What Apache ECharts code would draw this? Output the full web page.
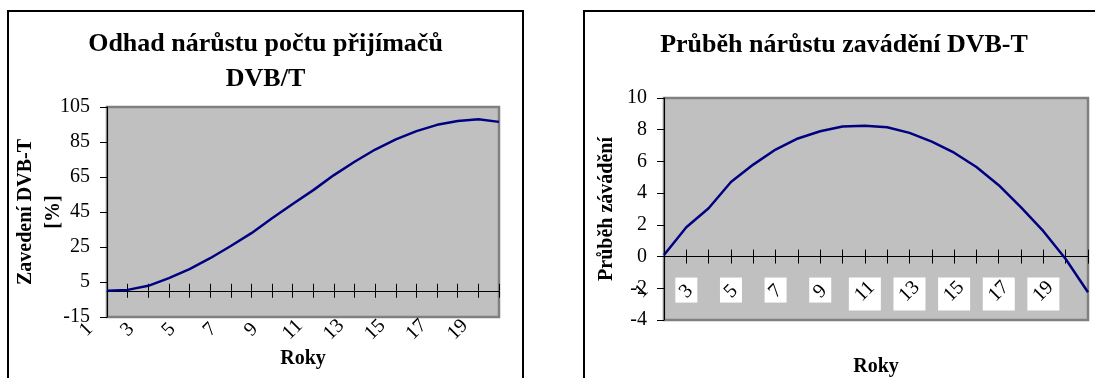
<!DOCTYPE html>
<html>
<head>
<meta charset="utf-8">
<title>DVB-T</title>
<script src="https://cdn.jsdelivr.net/npm/echarts@6/dist/echarts.min.js"></script>
<style>
    html, body { margin: 0; padding: 0; background: #fff; width: 1095px; height: 378px; overflow: hidden; }
    .box { position: absolute; top: 10px; height: 400px; border: 2px solid #000; box-sizing: border-box; }
    #chartLeft { left: 7px; width: 517px; }
    #chartRight { left: 583px; width: 522px; }
</style>
</head>
<body>
<div id="chartLeft" class="box"></div>
<div id="chartRight" class="box"></div>
<script>
    // popisky osy x - Excel je ma posunute o jeden dilek doleva
    var roky = ['1', '2', '3', '4', '5', '6', '7', '8', '9', '10', '11',
        '12', '13', '14', '15', '16', '17', '18', '19', '20', '21'];
    // odhad zavedeni DVB-T [%]
    var zavedeni = [0, 0.5, 2.8, 7.2, 12.4, 18.6, 25.6, 32.9, 41.4, 49.6,
        57.5, 66.1, 73.7, 80.7, 86.5, 91.2, 94.8, 97, 98, 96.5];
    // prubeh narustu zavadeni
    var prubeh = [0.1, 1.85, 3.05, 4.7, 5.8, 6.75, 7.45, 7.9, 8.2, 8.25,
        8.15, 7.8, 7.25, 6.55, 5.65, 4.5, 3.1, 1.6, -0.15, -2.25];
    var osaYZavedeni = [-15, 5, 25, 45, 65, 85, 105];
    var osaYPrubeh = [-4, -2, 0, 2, 4, 6, 8, 10];

    var SERIF = "'Liberation Serif', 'Times New Roman', serif";
    var black = { color: '#000', width: 1 };

    function titleStyle() {
        return { fontFamily: SERIF, fontSize: 26, fontWeight: 'bold', lineHeight: 35, color: '#000' };
    }
    function nameStyle(lh) {
        return { fontFamily: SERIF, fontSize: 20, fontWeight: 'bold', lineHeight: lh || 22, color: '#000' };
    }
    function plotGrid(left, top, width, height) {
        return {
            left: left, top: top, width: width, height: height,
            show: true, backgroundColor: '#c0c0c0', borderColor: '#808080', borderWidth: 2.5,
            outerBoundsMode: 'none', containLabel: false
        };
    }
    // pomocny grid, jehoz spodni hrana lezi na nule hlavni osy y
    function zeroGrid(left, top, width, height, yMin, yMax) {
        return {
            left: left, top: top, width: width, height: height * yMax / (yMax - yMin),
            outerBoundsMode: 'none', containLabel: false
        };
    }
    function mainXAxis(nameGap) {
        return {
            gridIndex: 0, type: 'category', data: roky.slice(1), boundaryGap: false,
            axisLine: { onZero: true, lineStyle: black },
            axisTick: { inside: true, length: 7, interval: 0, lineStyle: black },
            axisLabel: { show: false },
            name: 'Roky', nameLocation: 'middle', nameGap: nameGap, nameMoveOverlap: false,
            nameTextStyle: nameStyle()
        };
    }
    function labelXAxis(gridIndex, margin) {
        return {
            gridIndex: gridIndex, type: 'category', data: roky, boundaryGap: false,
            position: 'bottom', z: 3,
            axisLine: { show: false, onZero: false },
            axisTick: { show: true, length: 7, lineStyle: black,
                interval: function (i) { return i > 0; } },
            axisLabel: {
                interval: function (i) { return i % 2 === 0 && i < 19; },
                rotate: 45, align: 'center', verticalAlign: 'middle', margin: margin,
                fontFamily: SERIF, fontSize: 20, color: '#000', hideOverlap: false
            }
        };
    }
    function hiddenY(gridIndex, min, max) {
        return { gridIndex: gridIndex, type: 'value', min: min, max: max, show: false };
    }
    function serie(data) {
        return {
            type: 'line', xAxisIndex: 0, yAxisIndex: 0, data: data, symbol: 'none', z: 4,
            lineStyle: { color: '#000080', width: 2.5 }, itemStyle: { color: '#000080' }
        };
    }

    function drawLeft() {
        var chart = echarts.init(document.getElementById('chartLeft'));
        chart.setOption({
            animation: false,
            title: { text: 'Odhad nárůstu počtu přijímačů\nDVB/T', left: 'center', top: 10,
                textStyle: titleStyle() },
            grid: [
                plotGrid(98, 95, 392, 210),
                zeroGrid(77.4, 95, 412.6, 210, -15, 105)
            ],
            xAxis: [mainXAxis(31), labelXAxis(1, 39)],
            yAxis: [
                {
                    gridIndex: 0, type: 'value', min: -15, max: 105,
                    axisLine: { show: true, lineStyle: black },
                    axisTick: { show: true, length: 7, customValues: osaYZavedeni, lineStyle: black },
                    axisLabel: { customValues: osaYZavedeni, margin: 17, fontFamily: SERIF, fontSize: 20, color: '#000' },
                    splitLine: { show: false },
                    name: 'Zavedení DVB-T\n[%]', nameLocation: 'middle', nameGap: 39, nameMoveOverlap: false,
                    nameTextStyle: nameStyle(28)
                },
                hiddenY(1, -15, 105)
            ],
            series: [serie(zavedeni)]
        });
    }

    function drawRight() {
        var chart = echarts.init(document.getElementById('chartRight'));
        // bile obdelniky pod popisky osy x
        var boxAxis = {
            gridIndex: 1, type: 'category', data: roky, boundaryGap: false,
            position: 'bottom', z: 2,
            axisLine: { show: false, onZero: false },
            axisTick: { show: false },
            axisLabel: {
                interval: function (i) { return i % 2 === 0 && i > 0 && i < 19; },
                align: 'center', verticalAlign: 'top', margin: 21, hideOverlap: false,
                color: 'rgba(0,0,0,0)', fontFamily: SERIF, fontSize: 18,
                formatter: function (v) { return v.length > 1 ? '{d|' + v + '}' : '{s|' + v + '}'; },
                rich: {
                    s: { width: 22, height: 25, backgroundColor: '#fff', color: 'rgba(0,0,0,0)', align: 'center' },
                    d: { width: 32, height: 33, backgroundColor: '#fff', color: 'rgba(0,0,0,0)', align: 'center' }
                }
            }
        };
        chart.setOption({
            animation: false,
            title: { text: 'Průběh nárůstu zavádění DVB-T', left: 'center', top: 11, textStyle: titleStyle() },
            grid: [
                plotGrid(79, 86, 424, 222),
                zeroGrid(56.7, 86, 446.3, 222, -4, 10),
                zeroGrid(56.7, 86, 446.3, 222, -4, 10)
            ],
            xAxis: [mainXAxis(36), boxAxis, labelXAxis(2, 35)],
            yAxis: [
                {
                    gridIndex: 0, type: 'value', min: -4, max: 10, interval: 2,
                    axisLine: { show: true, lineStyle: black },
                    axisTick: { show: true, length: 7, lineStyle: black },
                    axisLabel: { margin: 17, fontFamily: SERIF, fontSize: 20, color: '#000' },
                    splitLine: { show: false },
                    name: 'Průběh závádění', nameLocation: 'middle', nameGap: 46, nameMoveOverlap: false,
                    nameTextStyle: nameStyle()
                },
                hiddenY(1, -4, 10),
                hiddenY(2, -4, 10)
            ],
            series: [serie(prubeh)]
        });
    }

    drawLeft();
    drawRight();
</script>
</body>
</html>
